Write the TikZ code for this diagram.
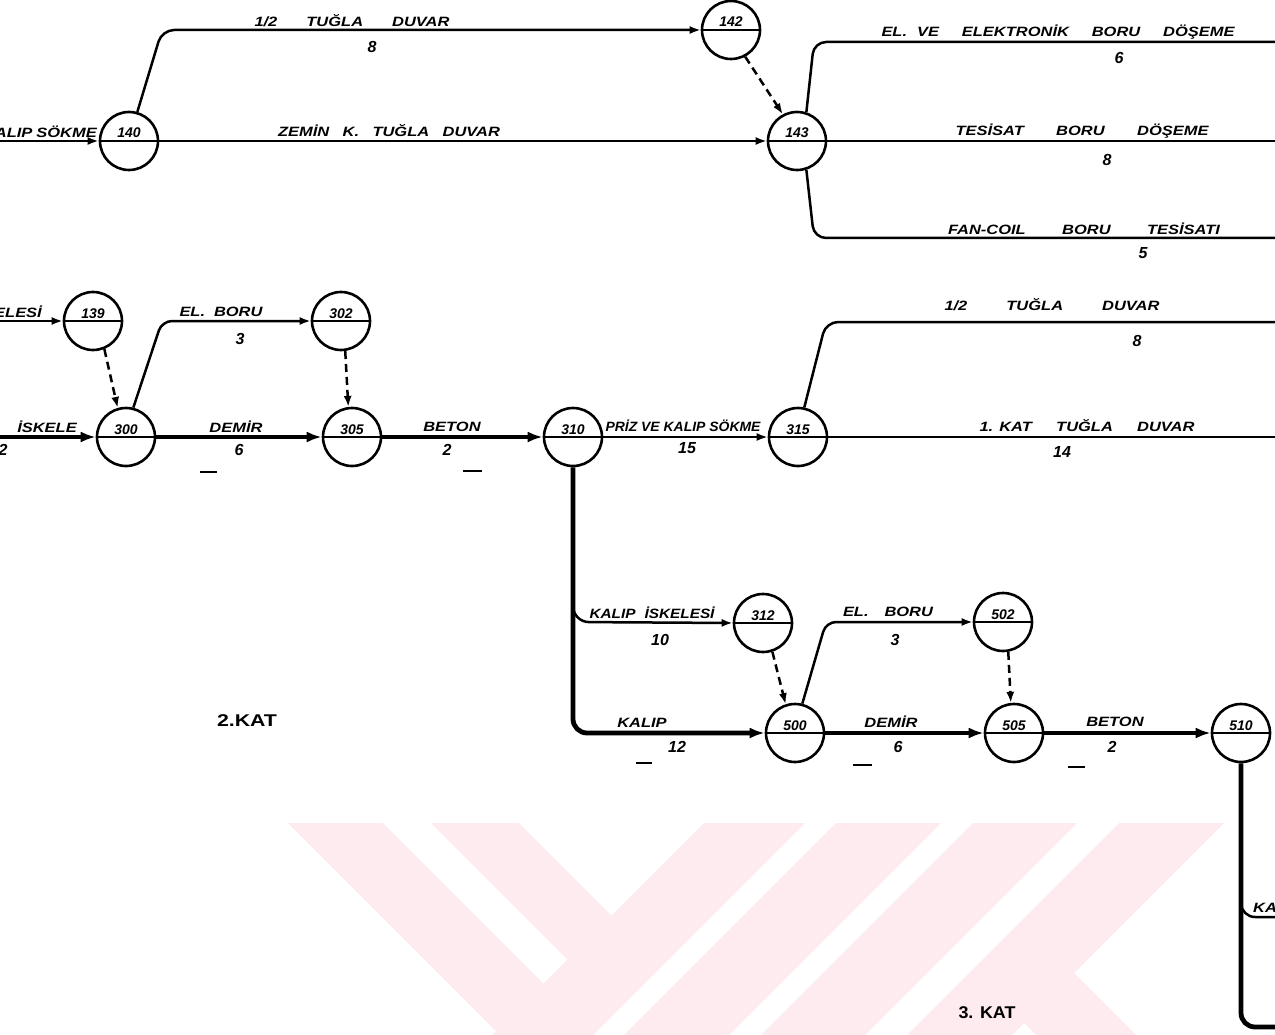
\documentclass[tikz,border=0pt]{standalone}
\usepackage{fontspec}
\usepackage{graphicx}
\setmainfont{Liberation Sans}
\usetikzlibrary{arrows.meta}
\definecolor{wm}{RGB}{253,235,239}
\newcommand{\spr}[2]{\makebox[#1pt][s]{#2}}
\newcommand{\fitw}[2]{\resizebox{#1pt}{\height}{#2}}
\newcommand{\hw}[1]{\scalebox{1.22}[1]{#1}}
\tikzset{
  ev/.style={circle, draw, line width=2.6pt, minimum size=58pt, inner sep=0pt,
    font=\bfseries\itshape\fontsize{14}{14}\selectfont, text height=10pt, text depth=16pt,
    path picture={\draw[line width=2.4pt] (path picture bounding box.west) -- (path picture bounding box.east);}},
  act/.style={line width=2.5pt, -{Latex[length=11pt,width=8pt]}},
  crit/.style={line width=4.8pt, -{Latex[length=15pt,width=11pt]}},
  dum/.style={line width=2.5pt, dash pattern=on 8pt off 5pt, -{Latex[length=11pt,width=8pt]}},
  plainline/.style={line width=2.5pt},
  thickline/.style={line width=4.8pt},
  lab/.style={inner sep=0pt, font=\bfseries\itshape\fontsize{13.5}{13.5}\selectfont},
  dur/.style={inner sep=0pt, font=\bfseries\itshape\fontsize{16}{16}\selectfont},
  katlab/.style={inner sep=0pt, font=\bfseries\fontsize{17}{17}\selectfont},
  critmark/.style={line width=2.8pt}
}
\begin{document}
\begin{tikzpicture}[x=1pt,y=-1pt]
\useasboundingbox (0,0) rectangle (1275,1035);
\clip (0,0) rectangle (1275,1035);
% watermark
\fill[wm] (288,823) -- (383,823) -- (595,1035) -- (500,1035) -- cycle;
\fill[wm] (431,823) -- (519,823) -- (640,944) -- (596,988) -- cycle;
\fill[wm] (704,823) -- (805,823) -- (593,1035) -- (492,1035) -- cycle;
\fill[wm] (836,823) -- (941,823) -- (729,1035) -- (624,1035) -- cycle;
\fill[wm] (973,823) -- (1077,823) -- (865,1035) -- (761,1035) -- cycle;
\fill[wm] (1119,823) -- (1224,823) -- (1012,1035) -- (907,1035) -- cycle;
\fill[wm] (1074,973) -- (1136,1035) -- (1036,1035) -- (990,989) -- cycle;

% events
\node[ev] (n140) at (129,141) {140};
\node[ev] (n142) at (731,30) {142};
\node[ev] (n143) at (797,141) {143};
\node[ev] (n139) at (93,321) {139};
\node[ev] (n300) at (126,437) {300};
\node[ev] (n302) at (341,321) {302};
\node[ev] (n305) at (352,437) {305};
\node[ev] (n310) at (573,437) {310};
\node[ev] (n315) at (798,437) {315};
\node[ev] (n312) at (763,623) {312};
\node[ev] (n500) at (795,733) {500};
\node[ev] (n502) at (1003,622) {502};
\node[ev] (n505) at (1014,733) {505};
\node[ev] (n510) at (1241,733) {510};

% free ends
\coordinate (s140) at (0,141);
\coordinate (s139) at (0,321);
\coordinate (s300) at (0,437);
\coordinate (e1) at (1275,42);
\coordinate (e2) at (1275,141);
\coordinate (e3) at (1275,238);
\coordinate (e4) at (1275,322);
\coordinate (e5) at (1275,437);
\coordinate (e6) at (1275,1027);
\coordinate (e7) at (1275,917);
\coordinate (b312) at (573,590);
\coordinate (b510) at (1241,885);

% activities, top
\draw[act] (s140) -- (n140.west);
\draw[act, rounded corners=12pt] (n140.74) -- (162,30) -- (n142.west);
\draw[act] (n140.east) -- (n143.west);
\draw[dum] (n142.-62) -- (n143.118);
\draw[plainline, rounded corners=12pt] (n143.72) -- (814,42) -- (e1);
\draw[plainline] (n143.east) -- (e2);
\draw[plainline, rounded corners=12pt] (n143.-72) -- (814,238) -- (e3);

% 2. kat
\draw[act] (s139) -- (n139.west);
\draw[crit] (s300) -- (n300.west);
\draw[dum] (n139.-68) -- (n300.106);
\draw[act, rounded corners=10pt] (n300.76) -- (162,321) -- (n302.west);
\draw[crit] (n300.east) -- (n305.west);
\draw[dum] (n302.-82) -- (n305.97);
\draw[crit] (n305.east) -- (n310.west);
\draw[act] (n310.east) -- (n315.west);
\draw[plainline, rounded corners=12pt] (n315.78) -- (826,322) -- (e4);
\draw[plainline] (n315.east) -- (e5);

% 3. kat
\draw[crit, rounded corners=14pt] (n310.south) -- (573,733) -- (n500.west);
\draw[act, rounded corners=16pt] (b312) -- (573,622) -- (n312.west);
\draw[dum] (n312.-72) -- (n500.108);
\draw[act, rounded corners=10pt] (n500.76) -- (826,622) -- (n502.west);
\draw[crit] (n500.east) -- (n505.west);
\draw[dum] (n502.-80) -- (n505.96);
\draw[crit] (n505.east) -- (n510.west);
\draw[thickline, rounded corners=14pt] (n510.south) -- (1241,1027) -- (e6);
\draw[plainline, rounded corners=14pt] (b510) -- (1241,917) -- (e7);

% labels top
\node[lab, anchor=east] (l0) at (97,132) {\hw{KALIP}\hspace{4pt}\hw{SÖKME}};
\node[lab] (l1) at (352,21) {\spr{195}{\hw{1/2}\hfill \hw{TUĞLA}\hfill \hw{DUVAR}}};
\node[dur] (d1) at (372,47) {8};
\node[lab] (l2) at (389,131) {\spr{222}{\hw{ZEMİN}\hfill \hw{K.}\hfill \hw{TUĞLA}\hfill \hw{DUVAR}}};
\node[lab] (l3) at (1058,32) {\spr{353}{\hw{EL.}\hspace{10pt}\hw{VE}\hfill \hw{ELEKTRONİK}\hfill \hw{BORU}\hfill \hw{DÖŞEME}}};
\node[dur] (d3) at (1119,58) {6};
\node[lab] (l4) at (1082,131) {\spr{253}{\hw{TESİSAT}\hfill \hw{BORU}\hfill \hw{DÖŞEME}}};
\node[dur] (d4) at (1107,160) {8};
\node[lab] (l5) at (1084,229) {\spr{272}{\hw{FAN-COIL}\hfill \hw{BORU}\hfill \hw{TESİSATI}}};
\node[dur] (d5) at (1143,253) {5};

% labels 2. kat
\node[lab, anchor=east] (l6) at (42,312) {\hw{KALIP}\hspace{4pt}\hw{İSKELESİ}};
\node[lab] (l7) at (221,312) {\spr{83}{\hw{EL.}\hfill \hw{BORU}}};
\node[dur] (d7) at (240,339) {3};
\node[lab] (l8) at (47,427) {\hw{İSKELE}};
\node[dur] (d8) at (3,450) {2};
\node[lab] (l9) at (236,427) {\hw{DEMİR}};
\node[dur] (d9) at (239,450) {6};
\node[lab] (l10) at (452,427) {\hw{BETON}};
\node[dur] (d10) at (447,450) {2};
\node[lab] (l11) at (683,426) {\fitw{155}{PRİZ VE KALIP SÖKME}};
\node[dur] (d11) at (687,448) {15};
\node[lab] (l12) at (1052,305) {\spr{215}{\hw{1/2}\hfill \hw{TUĞLA}\hfill \hw{DUVAR}}};
\node[dur] (d12) at (1137,341) {8};
\node[lab] (l13) at (1087,426) {\spr{215}{\hw{1. KAT}\hfill \hw{TUĞLA}\hfill \hw{DUVAR}}};
\node[dur] (d13) at (1062,452) {14};
\draw[critmark] (200,472) -- (217,472);
\draw[critmark] (463,471) -- (482,471);

% labels 3. kat
\node[lab] (l14) at (652,613) {\fitw{125}{KALIP\hspace{8pt}İSKELESİ}};
\node[dur] (d14) at (660,640) {10};
\node[lab] (l15) at (888,612) {\spr{90}{\hw{EL.}\hfill \hw{BORU}}};
\node[dur] (d15) at (895,640) {3};
\node[lab] (l16) at (642,723) {\hw{KALIP}};
\node[dur] (d16) at (677,747) {12};
\node[lab] (l17) at (891,722) {\hw{DEMİR}};
\node[dur] (d17) at (898,747) {6};
\node[lab] (l18) at (1115,722) {\hw{BETON}};
\node[dur] (d18) at (1112,747) {2};
\node[lab, anchor=west] (l19) at (1253,908) {\hw{KALIP}};
\draw[critmark] (636,763) -- (652,763);
\draw[critmark] (853,765) -- (872,765);
\draw[critmark] (1068,767) -- (1085,767);

\node[katlab] (k2) at (247,721) {\fitw{60}{2.KAT}};
\node[katlab] (k3) at (987,1013) {\fitw{57}{3. KAT}};
\end{tikzpicture}
\end{document}
